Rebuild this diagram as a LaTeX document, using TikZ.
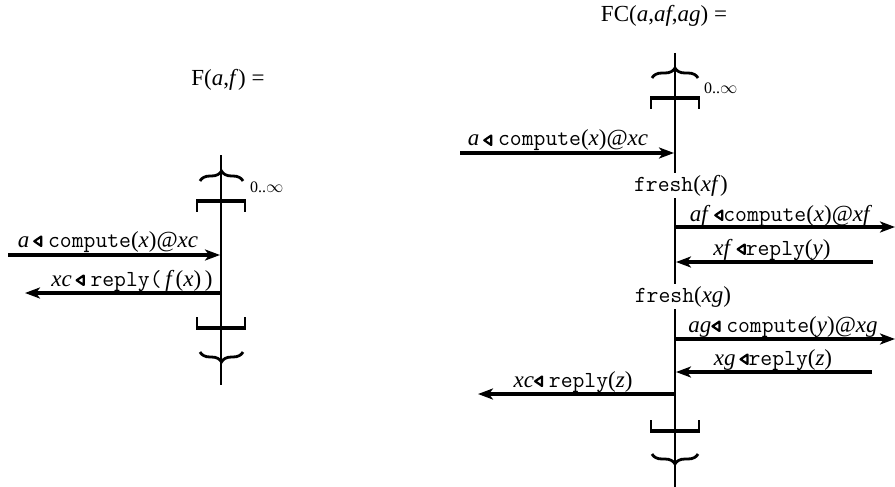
\documentclass[tikz,border=0pt]{standalone}
\usepackage{fontspec}
\setmainfont{Liberation Serif}
\usetikzlibrary{arrows.meta,decorations.pathreplacing}

% small outlined "send" triangle used inside message labels
\newcommand{\sendtri}{\tikz[baseline=0pt,x=1pt,y=1pt]\draw[line width=2.2pt,line join=round] (8,1)--(8,10.5)--(1,5.75)--cycle;}
\newcommand{\cd}[1]{{\ttfamily #1}}

\tikzset{
  lifeline/.style={line width=2.2pt},
  msg/.style={line width=3.3pt,-{Stealth[length=15pt,width=11pt,inset=4pt]}},
  lbl/.style={font=\fontsize{23}{26}\selectfont,inner sep=0pt,anchor=base},
  act/.style={font=\fontsize{23}{26}\selectfont,inner xsep=0pt,inner ysep=2pt,anchor=base},
  ttl/.style={font=\fontsize{23}{26}\selectfont,inner sep=0pt,anchor=base},
  mult/.style={font=\fontsize{16}{18}\selectfont,inner sep=0pt,anchor=base west},
  brc/.style={decorate,decoration={brace,amplitude=10pt},line width=2.8pt},
  % repetition bracket, open (ticks down) and close (ticks up)
  openbar/.pic={
    \draw[line width=2.2pt] (-24,0) -- (-24,-11) (24,0) -- (24,-11);
    \draw[line width=4.8pt] (-25,0) -- (25,0);
  },
  closebar/.pic={
    \draw[line width=2.2pt] (-24,0) -- (-24,11) (24,0) -- (24,11);
    \draw[line width=4.8pt] (-25,0) -- (25,0);
  },
}

\begin{document}
\begin{tikzpicture}[x=1pt,y=1pt]
\useasboundingbox (0,0) rectangle (895,-487);

% ---------------- F(a,f) ----------------
\node[ttl] (tF) at (228,-85) {F(\textit{a},\textit{f}) =};

\coordinate (Ltop) at (221,-155);
\coordinate (Lbot) at (221,-385);
\draw[lifeline] (Ltop) -- (Lbot);

\draw[brc] (200,-181) -- (243,-181);
\pic at (221,-201) {openbar};
\node[mult] (mL) at (250,-192) {0..$\infty$};

\coordinate (Lin1) at (8,-255);
\coordinate (Lon1) at (220,-255);
\draw[msg] (Lin1) -- (Lon1);
\node[lbl] (l1) at (108,-247) {\textit{a}\,\sendtri\ \cd{compute}(\textit{x})@\textit{xc}};

\coordinate (Lon2) at (220,-293);
\coordinate (Lout2) at (25,-293);
\draw[msg] (Lon2) -- (Lout2);
\node[lbl] (l2) at (132,-286) {\textit{xc}\,\sendtri\ \cd{reply(}\,\textit{f\,}(\textit{x})\,)};

\pic at (221,-328) {closebar};
\draw[brc] (243,-352) -- (200,-352);

% ---------------- FC(a,af,ag) ----------------
\node[ttl] (tFC) at (664,-22) {FC(\textit{a},\textit{af},\textit{ag}) =};

\coordinate (Rtop) at (675,-53);
\coordinate (Rbot) at (675,-487);
\node[act] (fxf) at (681,-191) {\cd{fresh}(\textit{xf})};
\node[act] (fxg) at (683,-302) {\cd{fresh}(\textit{xg})};
\draw[lifeline] (Rtop) -- (Rtop |- fxf.north);
\draw[lifeline] (Rtop |- fxf.south) -- (Rtop |- fxg.north);
\draw[lifeline] (Rtop |- fxg.south) -- (Rbot);

\draw[brc] (652,-78) -- (698,-78);
\pic at (675,-98) {openbar};
\node[mult] (mR) at (704,-93) {0..$\infty$};

\coordinate (Rin1) at (460,-153);
\coordinate (Ron1) at (674,-153);
\draw[msg] (Rin1) -- (Ron1);
\node[lbl] (r1) at (558,-146) {\textit{a}\,\sendtri\ \cd{compute}(\textit{x})@\textit{xc}};

\coordinate (Ron2) at (676,-227);
\coordinate (Rout2) at (895,-227);
\draw[msg] (Ron2) -- (Rout2);
\node[lbl] (r2) at (781,-221) {\textit{af}\,\sendtri\cd{compute}(\textit{x})@\textit{xf}};

\coordinate (Rin3) at (873,-262);
\coordinate (Ron3) at (676,-262);
\draw[msg] (Rin3) -- (Ron3);
\node[lbl] (r3) at (772,-255) {\textit{xf}\,\sendtri\cd{reply}(\textit{y})};

\coordinate (Ron4) at (676,-339);
\coordinate (Rout4) at (895,-339);
\draw[msg] (Ron4) -- (Rout4);
\node[lbl] (r4) at (783,-332) {\textit{ag}\sendtri\ \cd{compute}(\textit{y})@\textit{xg}};

\coordinate (Rin5) at (872,-372);
\coordinate (Ron5) at (676,-372);
\draw[msg] (Rin5) -- (Ron5);
\node[lbl] (r5) at (773,-365) {\textit{xg}\,\sendtri\cd{reply}(\textit{z})};

\coordinate (Ron6) at (674,-394);
\coordinate (Rout6) at (478,-394);
\draw[msg] (Ron6) -- (Rout6);
\node[lbl] (r6) at (573,-387) {\textit{xc}\sendtri\ \cd{reply}(\textit{z})};

\pic at (675,-431) {closebar};
\draw[brc] (698,-454) -- (652,-454);
\end{tikzpicture}
\end{document}
